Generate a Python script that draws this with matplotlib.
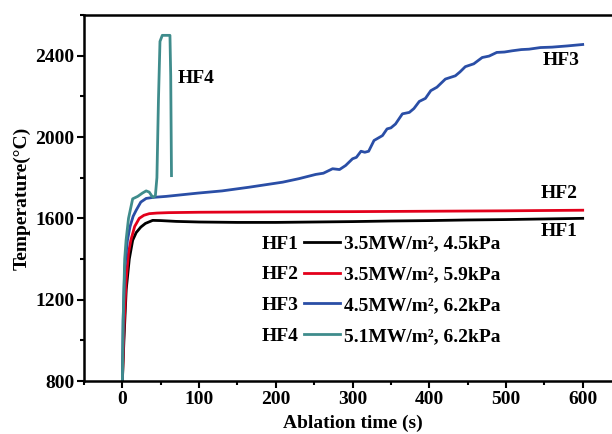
import matplotlib
matplotlib.use("Agg")
import matplotlib.pyplot as plt
from matplotlib.ticker import MultipleLocator
from matplotlib.lines import Line2D

# ---- data ----
hf1_t = [0, 2, 5, 9, 13.4, 18, 24, 30, 39.5, 50, 70, 100, 150, 200, 250, 300, 350, 400, 450, 500, 550, 600]
hf1_T = [800, 1000, 1250, 1400, 1492, 1530, 1557, 1575, 1590, 1589, 1585, 1582, 1580, 1580, 1582, 1584, 1587, 1589, 1592, 1594, 1597, 1600]

hf2_t = [0, 2, 5, 8, 11, 16, 22, 28, 35, 45, 60, 100, 150, 200, 300, 400, 500, 600]
hf2_T = [800, 1050, 1300, 1430, 1492, 1560, 1600, 1615, 1623, 1626, 1628, 1630, 1631, 1632, 1633, 1635, 1637, 1640]

hf3_t = [0, 1, 3, 6.5, 10, 14, 18, 24, 31, 40, 57, 98, 130, 165, 209, 230, 252, 262, 274, 283, 291, 300, 305, 311,
         316, 321, 328, 339, 345, 350, 356, 365, 374, 380, 387, 395, 402, 410, 421, 434, 440, 447, 458, 469, 478, 488,
         498, 508, 520, 530, 545, 560, 580, 600]
hf3_T = [800, 1100, 1350, 1490, 1560, 1610, 1640, 1680, 1698, 1703, 1708, 1724, 1735, 1753, 1778, 1795, 1816, 1822,
         1844, 1840, 1860, 1893, 1900, 1930, 1925, 1930, 1983, 2007, 2040, 2045, 2064, 2114, 2121, 2140, 2175, 2190,
         2228, 2245, 2285, 2301, 2320, 2346, 2360, 2391, 2398, 2416, 2418, 2424, 2430, 2432, 2440, 2442, 2448, 2455]

hf4_t = [0, 1, 3, 4.8, 8, 13.4, 20, 26, 31, 35, 38, 40, 43, 45, 47, 49, 52, 62, 63, 64]
hf4_T = [800, 1100, 1400, 1492, 1600, 1696, 1708, 1724, 1735, 1729, 1712, 1703, 1712, 1800, 2180, 2470, 2500, 2500, 2300, 1810]

names = ["HF1", "HF2", "HF3", "HF4"]
conditions = ["3.5MW/m², 4.5kPa", "3.5MW/m², 5.9kPa", "4.5MW/m², 6.2kPa", "5.1MW/m², 6.2kPa"]
colors = ["#000000", "#e3001b", "#2a4ea6", "#3f8c8c"]

plt.rcParams['font.family'] = ['Liberation Serif', 'DejaVu Serif']
plt.rcParams['font.weight'] = 'bold'
plt.rcParams['axes.labelweight'] = 'bold'
fs = 14

fig = plt.figure(figsize=(6.12, 4.34), dpi=100)
ax = fig.add_axes([0.1373, 0.1221, 0.8775, 0.8433])

series = [(hf1_t, hf1_T), (hf2_t, hf2_T), (hf3_t, hf3_T), (hf4_t, hf4_T)]
handles = []
for (t, T), c in zip(series, colors):
    ln, = ax.plot(t, T, color=c, lw=2)
    handles.append(ln)

ax.set_xlim(-50, 650)
ax.set_ylim(800, 2600)
ax.xaxis.set_minor_locator(MultipleLocator(50))
ax.yaxis.set_major_locator(MultipleLocator(400))
ax.yaxis.set_minor_locator(MultipleLocator(200))
ax.tick_params(which='major', direction='out', length=5, width=1.5, labelsize=fs, pad=2)
ax.tick_params(which='minor', direction='out', length=3, width=1.5)
ax.set_xticks([0, 100, 200, 300, 400, 500, 600])
for s in ax.spines.values():
    s.set_linewidth(1.8)
ax.spines['right'].set_visible(False)

ax.set_xlabel("Ablation time (s)", fontsize=fs, labelpad=5)
ax.set_ylabel("Temperature(°C)", fontsize=fs, labelpad=3)

# curve labels
ax.text(96, 2287, "HF4", fontsize=fs, ha='center', va='center')
ax.text(572, 2375, "HF3", fontsize=fs, ha='center', va='center')
ax.text(569, 1722, "HF2", fontsize=fs, ha='center', va='center')
ax.text(569, 1536, "HF1", fontsize=fs, ha='center', va='center')

# legend: name + line on the left, conditions on the right
W, H = 612, 434
leg1 = fig.legend(handles, names, loc='upper right', bbox_to_anchor=(340 / W, 1 - 235 / H),
                  frameon=False, markerfirst=False, fontsize=fs, handlelength=1.85,
                  handletextpad=0.3, labelspacing=0.68, borderpad=0, borderaxespad=0)
blank = [Line2D([], [], lw=0) for _ in names]
leg2 = fig.legend(blank, conditions, loc='upper left', bbox_to_anchor=(344 / W, 1 - 235 / H),
                  frameon=False, fontsize=fs, handlelength=0, handletextpad=0,
                  labelspacing=0.68, borderpad=0, borderaxespad=0)

fig.savefig("out.png", dpi=100)
